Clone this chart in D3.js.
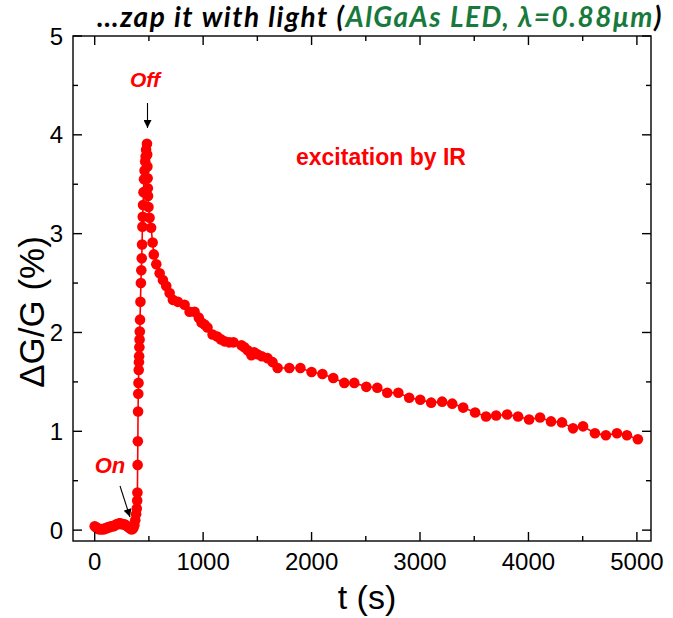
<!DOCTYPE html>
<html><head><meta charset="utf-8">
<script src="https://cdn.jsdelivr.net/npm/d3@7/dist/d3.min.js"></script>
<style>body{margin:0;background:#fff}</style>
</head><body>
<svg id="c" width="673" height="618"></svg>
<script>
// time (s)
const tInit = [0, 12, 25, 38, 50, 62, 75, 88, 100, 112, 125, 138, 150, 162, 175, 188, 200, 212, 225, 238, 250, 262, 275, 288, 300, 312, 325, 336, 346, 356, 366, 374, 382, 388];
const vInit = [0.04, 0.03, 0.02, 0.01, 0.01, 0.01, 0.01, 0.01, 0.02, 0.02, 0.03, 0.03, 0.04, 0.04, 0.04, 0.05, 0.06, 0.06, 0.07, 0.07, 0.06, 0.06, 0.06, 0.05, 0.04, 0.03, 0.02, 0.01, 0.01, 0.02, 0.05, 0.10, 0.16, 0.22];
const tRise = [392, 394, 396, 398, 400, 402, 404, 406, 408, 410, 412, 414, 416, 418, 422, 426, 430, 434, 437, 440, 443, 446, 450, 455, 460, 466, 470, 474, 482];
const vRise = [0.30, 0.38, 0.66, 0.90, 1.20, 1.38, 1.49, 1.62, 1.70, 1.76, 1.85, 1.93, 2.01, 2.13, 2.31, 2.50, 2.63, 2.75, 2.89, 3.07, 3.17, 3.29, 3.42, 3.55, 3.64, 3.73, 3.78, 3.85, 3.91];
const tDecay = [484, 486, 488, 490, 492, 496, 506, 520, 534, 545, 568, 599, 629, 660, 691, 721, 767, 829, 875, 921, 960, 985, 1013, 1040, 1087, 1130, 1165, 1197, 1240, 1280, 1353, 1380, 1410, 1445, 1470, 1500, 1540, 1594, 1640, 1687,
  1795, 1897, 2000, 2100, 2200, 2302, 2394, 2505, 2606, 2698, 2800, 2900, 3002, 3103, 3204, 3297, 3398, 3508, 3609, 3702, 3803, 3904, 4006, 4107, 4208, 4309, 4411, 4503, 4613, 4714, 4816, 4908, 5009];
const vDecay = [3.80, 3.68, 3.56, 3.46, 3.38, 3.27, 3.16, 3.06, 2.91, 2.79, 2.69, 2.60, 2.53, 2.47, 2.40, 2.33, 2.31, 2.28, 2.21, 2.21, 2.15, 2.10, 2.08, 2.05, 1.98, 1.96, 1.93, 1.91, 1.90, 1.90, 1.87, 1.85, 1.82, 1.77, 1.80, 1.78, 1.76, 1.74, 1.70, 1.64,
  1.64, 1.64, 1.60, 1.58, 1.54, 1.49, 1.49, 1.45, 1.44, 1.39, 1.39, 1.34, 1.32, 1.29, 1.30, 1.28, 1.24, 1.19, 1.15, 1.16, 1.17, 1.15, 1.12, 1.14, 1.10, 1.09, 1.03, 1.05, 0.98, 0.96, 0.98, 0.96, 0.92];
const xTicks = [0, 1000, 2000, 3000, 4000, 5000];
const xMinor = [500, 1500, 2500, 3500, 4500];
const yTicks = [0, 1, 2, 3, 4, 5];
const yMinor = [0.5, 1.5, 2.5, 3.5, 4.5];

const tAll = tInit.concat(tRise, tDecay);
const vAll = vInit.concat(vRise, vDecay);
const data = tAll.map((t, i) => ({t, v: vAll[i]}));

const svg = d3.select("#c");
const L = 73, R = 651, T = 36, B = 541;
const x = d3.scaleLinear().domain([-200, 5130]).range([L, R]);
const y = d3.scaleLinear().domain([-0.11, 5]).range([B, T]);
const RED = "#ff0000";

// title
const title = svg.append("text").attr("x", 97).attr("y", 27)
  .attr("font-family", "Lato, 'Open Sans', sans-serif").attr("font-weight", "bold")
  .attr("font-style", "italic").attr("font-size", 28);
title.append("tspan").attr("fill", "#000").text("\u2026zap it with light (");
title.append("tspan").attr("fill", "#177a3c").text("AlGaAs LED, \u03bb=0.88\u03bcm");
title.append("tspan").attr("fill", "#000").text(")");
const tw = title.node().getComputedTextLength();
const nch = "\u2026zap it with light (AlGaAs LED, \u03bb=0.88\u03bcm)".length;
if (tw < 566) title.attr("letter-spacing", (566 - tw) / nch);
else title.attr("font-size", 28 * 566 / tw);

// data line + points
const g = svg.append("g");
g.append("path").datum(data)
  .attr("d", d3.line().x(d => x(d.t)).y(d => y(d.v)))
  .attr("fill", "none").attr("stroke", RED).attr("stroke-width", 1.6);
g.selectAll("circle").data(data).join("circle")
  .attr("cx", d => x(d.t)).attr("cy", d => y(d.v)).attr("r", 5.3).attr("fill", RED);

// frame and ticks
const ax = svg.append("g").attr("stroke", "#000").attr("stroke-width", 1.4);
ax.append("rect").attr("x", L).attr("y", T).attr("width", R - L).attr("height", B - T).attr("fill", "none");
const tick = (arr, len) => {
  arr.forEach(t => {
    ax.append("line").attr("x1", x(t)).attr("x2", x(t)).attr("y1", B).attr("y2", B - len);
    ax.append("line").attr("x1", x(t)).attr("x2", x(t)).attr("y1", T).attr("y2", T + len);
  });
};
tick(xTicks, 9); tick(xMinor, 5);
const ytick = (arr, len) => {
  arr.forEach(v => {
    ax.append("line").attr("y1", y(v)).attr("y2", y(v)).attr("x1", L).attr("x2", L + len);
    ax.append("line").attr("y1", y(v)).attr("y2", y(v)).attr("x1", R).attr("x2", R - len);
  });
};
ytick(yTicks, 9); ytick(yMinor, 5);

const lab = svg.append("g").attr("font-family", "'Liberation Sans', Arial, sans-serif").attr("fill", "#000");
xTicks.forEach(t => lab.append("text").attr("x", x(t)).attr("y", 570).attr("text-anchor", "middle").attr("font-size", 24).text(d3.format("d")(t)));
yTicks.forEach(v => lab.append("text").attr("x", 63).attr("y", y(v) + 8.5).attr("text-anchor", "end").attr("font-size", 24).text(v));
lab.append("text").attr("x", 367).attr("y", 609).attr("text-anchor", "middle").attr("font-size", 34).text("t (s)");
lab.append("text").attr("transform", "translate(44,312) rotate(-90)").attr("text-anchor", "middle").attr("font-size", 35).text("\u0394G/G (%)");

// annotations
const ann = svg.append("g").attr("font-family", "'Liberation Sans', Arial, sans-serif").attr("font-weight", "bold").attr("fill", RED);
ann.append("text").attr("x", 145).attr("y", 87).attr("text-anchor", "middle").attr("font-style", "italic").attr("font-size", 21).text("Off");
ann.append("text").attr("x", 110).attr("y", 473).attr("text-anchor", "middle").attr("font-style", "italic").attr("font-size", 22).text("On");
ann.append("text").attr("x", 381).attr("y", 165).attr("text-anchor", "middle").attr("font-size", 23).text("excitation by IR");

const defs = svg.append("defs");
defs.append("marker").attr("id", "ah").attr("viewBox", "0 0 10 10").attr("refX", 10).attr("refY", 5)
  .attr("markerWidth", 10).attr("markerHeight", 8).attr("markerUnits", "userSpaceOnUse").attr("orient", "auto")
  .append("path").attr("d", "M0,0 L10,5 L0,10 Z").attr("fill", "#000");
svg.append("line").attr("x1", 147.5).attr("y1", 103).attr("x2", 147.5).attr("y2", 128)
  .attr("stroke", "#000").attr("stroke-width", 1.1).attr("marker-end", "url(#ah)");
svg.append("line").attr("x1", 120).attr("y1", 486).attr("x2", 130).attr("y2", 517)
  .attr("stroke", "#000").attr("stroke-width", 1.1).attr("marker-end", "url(#ah)");
</script>
</body></html>
